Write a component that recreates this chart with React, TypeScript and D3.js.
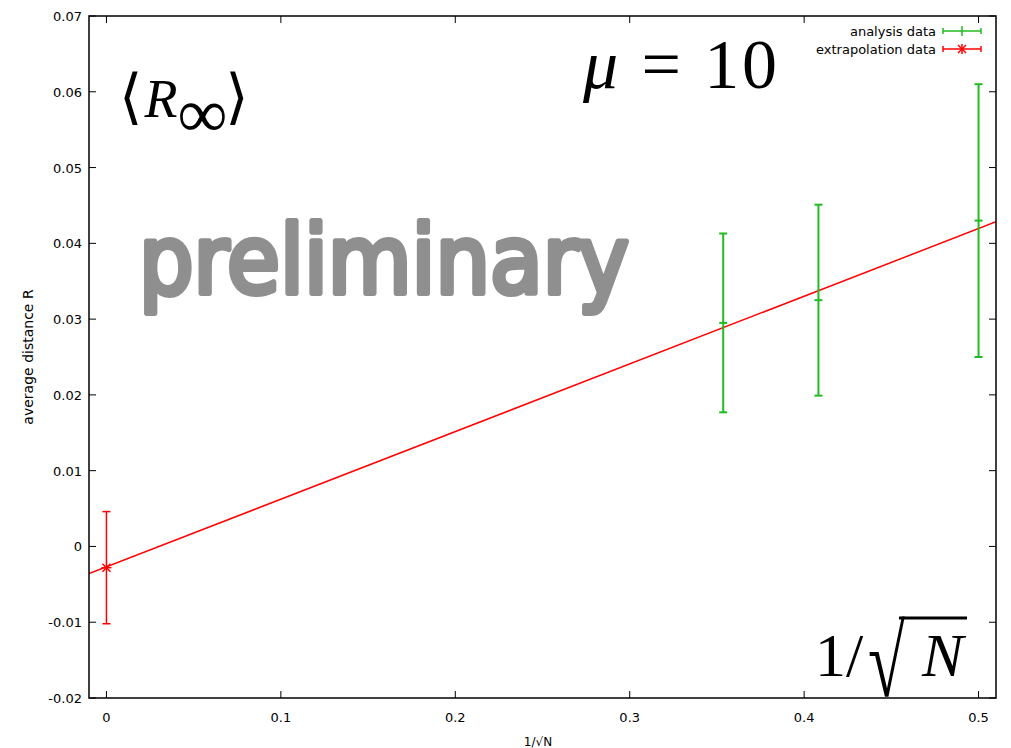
import React from 'react';
import { scaleLinear, line } from 'd3';

const xTicks = [0, 0.1, 0.2, 0.3, 0.4, 0.5];
const yTicks = [-0.02, -0.01, 0, 0.01, 0.02, 0.03, 0.04, 0.05, 0.06, 0.07];

// analysis data (1/sqrt(N), R, error)
const analysisX = [0.3536, 0.4082, 0.5];
const analysisY = [0.0295, 0.0325, 0.043];
const analysisErr = [0.0118, 0.0126, 0.018];

// extrapolated value at 1/sqrt(N) = 0
const extrapX = [0];
const extrapY = [-0.0028];
const extrapErr = [0.0074];

// linear fit
const fitIntercept = -0.0027;
const fitSlope = 0.0893;

const W = 1011;
const H = 748;
const M = { left: 89, right: 996, top: 16, bottom: 698 };
const GREEN = '#22bb22';
const RED = '#ff0000';
const FONT = 'DejaVu Sans, sans-serif';
const SERIF = 'Liberation Serif, Times New Roman, serif';

const fmt = (v: number) => (Math.abs(v) < 1e-9 ? '0' : String(+v.toFixed(2)));

export default function App() {
  const x = scaleLinear().domain([-0.01, 0.51]).range([M.left, M.right]);
  const y = scaleLinear().domain([-0.02, 0.07]).range([M.bottom, M.top]);
  const tick = 7;
  const cap = 4;

  const fitLine = line<number>()
    .x(d => x(d))
    .y(d => y(fitIntercept + fitSlope * d));
  const fitPath = fitLine(x.domain()) ?? '';

  return (
    <svg
      width={W}
      height={H}
      style={{ position: 'absolute', left: 0, top: 0, background: '#fff' }}
      fontFamily={FONT}
    >
      <defs>
        <clipPath id="plot">
          <rect x={M.left} y={M.top} width={M.right - M.left} height={M.bottom - M.top} />
        </clipPath>
      </defs>

      {/* watermark */}
      <text
        x={139}
        y={293}
        fontSize={94}
        fill="#8f8f8f"
        stroke="#8f8f8f"
        strokeWidth={6}
        strokeLinejoin="round"
        textLength={490}
        lengthAdjust="spacingAndGlyphs"
      >
        preliminary
      </text>

      {/* ticks on all four sides */}
      <g stroke="#000" strokeWidth={1}>
        {xTicks.map(t => (
          <g key={'x' + t}>
            <line x1={x(t)} x2={x(t)} y1={M.bottom} y2={M.bottom - tick} />
            <line x1={x(t)} x2={x(t)} y1={M.top} y2={M.top + tick} />
          </g>
        ))}
        {yTicks.map(t => (
          <g key={'y' + t}>
            <line x1={M.left} x2={M.left + tick} y1={y(t)} y2={y(t)} />
            <line x1={M.right} x2={M.right - tick} y1={y(t)} y2={y(t)} />
          </g>
        ))}
      </g>
      <g fontSize={13} fill="#000">
        {xTicks.map(t => (
          <text key={'xl' + t} x={x(t)} y={M.bottom + 24} textAnchor="middle">
            {fmt(t)}
          </text>
        ))}
        {yTicks.map(t => (
          <text key={'yl' + t} x={M.left - 7} y={y(t) + 5} textAnchor="end">
            {fmt(t)}
          </text>
        ))}
      </g>

      {/* axis labels */}
      <text x={538} y={746} fontSize={12} textAnchor="middle">
        1/√N
      </text>
      <text
        transform={`translate(33, ${(M.top + M.bottom) / 2}) rotate(-90)`}
        fontSize={14}
        textAnchor="middle"
      >
        average distance R
      </text>

      {/* math annotations */}
      <text x={119} y={117} fontFamily={SERIF} fill="#000">
        <tspan fontSize={60} fontFamily="DejaVu Serif, serif">⟨</tspan>
        <tspan fontSize={54} fontStyle="italic" dx={2}>R</tspan>
        <tspan fontSize={70} dy={20} dx={0}>∞</tspan>
        <tspan fontSize={60} dy={-20} dx={-2} fontFamily="DejaVu Serif, serif">⟩</tspan>
      </text>
      <text
        x={583}
        y={88}
        fontFamily={SERIF}
        fontSize={70}
        fill="#000"
        textLength={194}
        lengthAdjust="spacing"
      >
        <tspan fontStyle="italic">μ</tspan>
        <tspan> = 10</tspan>
      </text>
      <text x={815} y={676} fontFamily={SERIF} fontSize={62} fill="#000">
        1/
      </text>
      <text
        transform="translate(868, 696) scale(1.05, 1.57)"
        fontFamily={SERIF}
        fontSize={64}
        fill="#000"
      >
        √
      </text>
      <text x={922} y={676} fontFamily={SERIF} fontSize={62} fontStyle="italic" fill="#000">
        N
      </text>
      <line x1={899} x2={967} y1={618} y2={618} stroke="#000" strokeWidth={3} />

      <g clipPath="url(#plot)">
        {/* fit line */}
        <path d={fitPath} fill="none" stroke={RED} strokeWidth={1.5} />

        {/* analysis error bars */}
        <g stroke={GREEN} strokeWidth={2}>
          {analysisX.map((xv, i) => {
            const cx = x(xv);
            const y0 = y(analysisY[i] - analysisErr[i]);
            const y1 = y(analysisY[i] + analysisErr[i]);
            const cy = y(analysisY[i]);
            return (
              <g key={'a' + i}>
                <line x1={cx} x2={cx} y1={y0} y2={y1} />
                <line x1={cx - cap} x2={cx + cap} y1={y0} y2={y0} />
                <line x1={cx - cap} x2={cx + cap} y1={y1} y2={y1} />
                <line x1={cx - cap} x2={cx + cap} y1={cy} y2={cy} />
              </g>
            );
          })}
        </g>

        {/* extrapolation error bar */}
        <g stroke={RED} strokeWidth={1.5}>
          {extrapX.map((xv, i) => {
            const cx = x(xv);
            const y0 = y(extrapY[i] - extrapErr[i]);
            const y1 = y(extrapY[i] + extrapErr[i]);
            const cy = y(extrapY[i]);
            return (
              <g key={'e' + i}>
                <line x1={cx} x2={cx} y1={y0} y2={y1} />
                <line x1={cx - cap} x2={cx + cap} y1={y0} y2={y0} />
                <line x1={cx - cap} x2={cx + cap} y1={y1} y2={y1} />
                <line x1={cx - 5} x2={cx + 5} y1={cy} y2={cy} />
                <line x1={cx - 4} x2={cx + 4} y1={cy - 4} y2={cy + 4} />
                <line x1={cx - 4} x2={cx + 4} y1={cy + 4} y2={cy - 4} />
              </g>
            );
          })}
        </g>
      </g>

      {/* legend */}
      <g fontSize={13}>
        <text x={936} y={36} textAnchor="end">analysis data</text>
        <text x={936} y={54} textAnchor="end">extrapolation data</text>
        <g stroke={GREEN} strokeWidth={1.5}>
          <line x1={943} x2={981} y1={31} y2={31} />
          <line x1={943} x2={943} y1={28} y2={34} />
          <line x1={981} x2={981} y1={28} y2={34} />
          <line x1={962} x2={962} y1={26} y2={36} />
        </g>
        <g stroke={RED} strokeWidth={1.5}>
          <line x1={943} x2={981} y1={49} y2={49} />
          <line x1={943} x2={943} y1={46} y2={52} />
          <line x1={981} x2={981} y1={46} y2={52} />
          <line x1={962} x2={962} y1={44} y2={54} />
          <line x1={958} x2={966} y1={45} y2={53} />
          <line x1={958} x2={966} y1={53} y2={45} />
        </g>
      </g>

      {/* frame */}
      <rect
        x={M.left}
        y={M.top}
        width={M.right - M.left}
        height={M.bottom - M.top}
        fill="none"
        stroke="#000"
        strokeWidth={1.5}
      />
    </svg>
  );
}
